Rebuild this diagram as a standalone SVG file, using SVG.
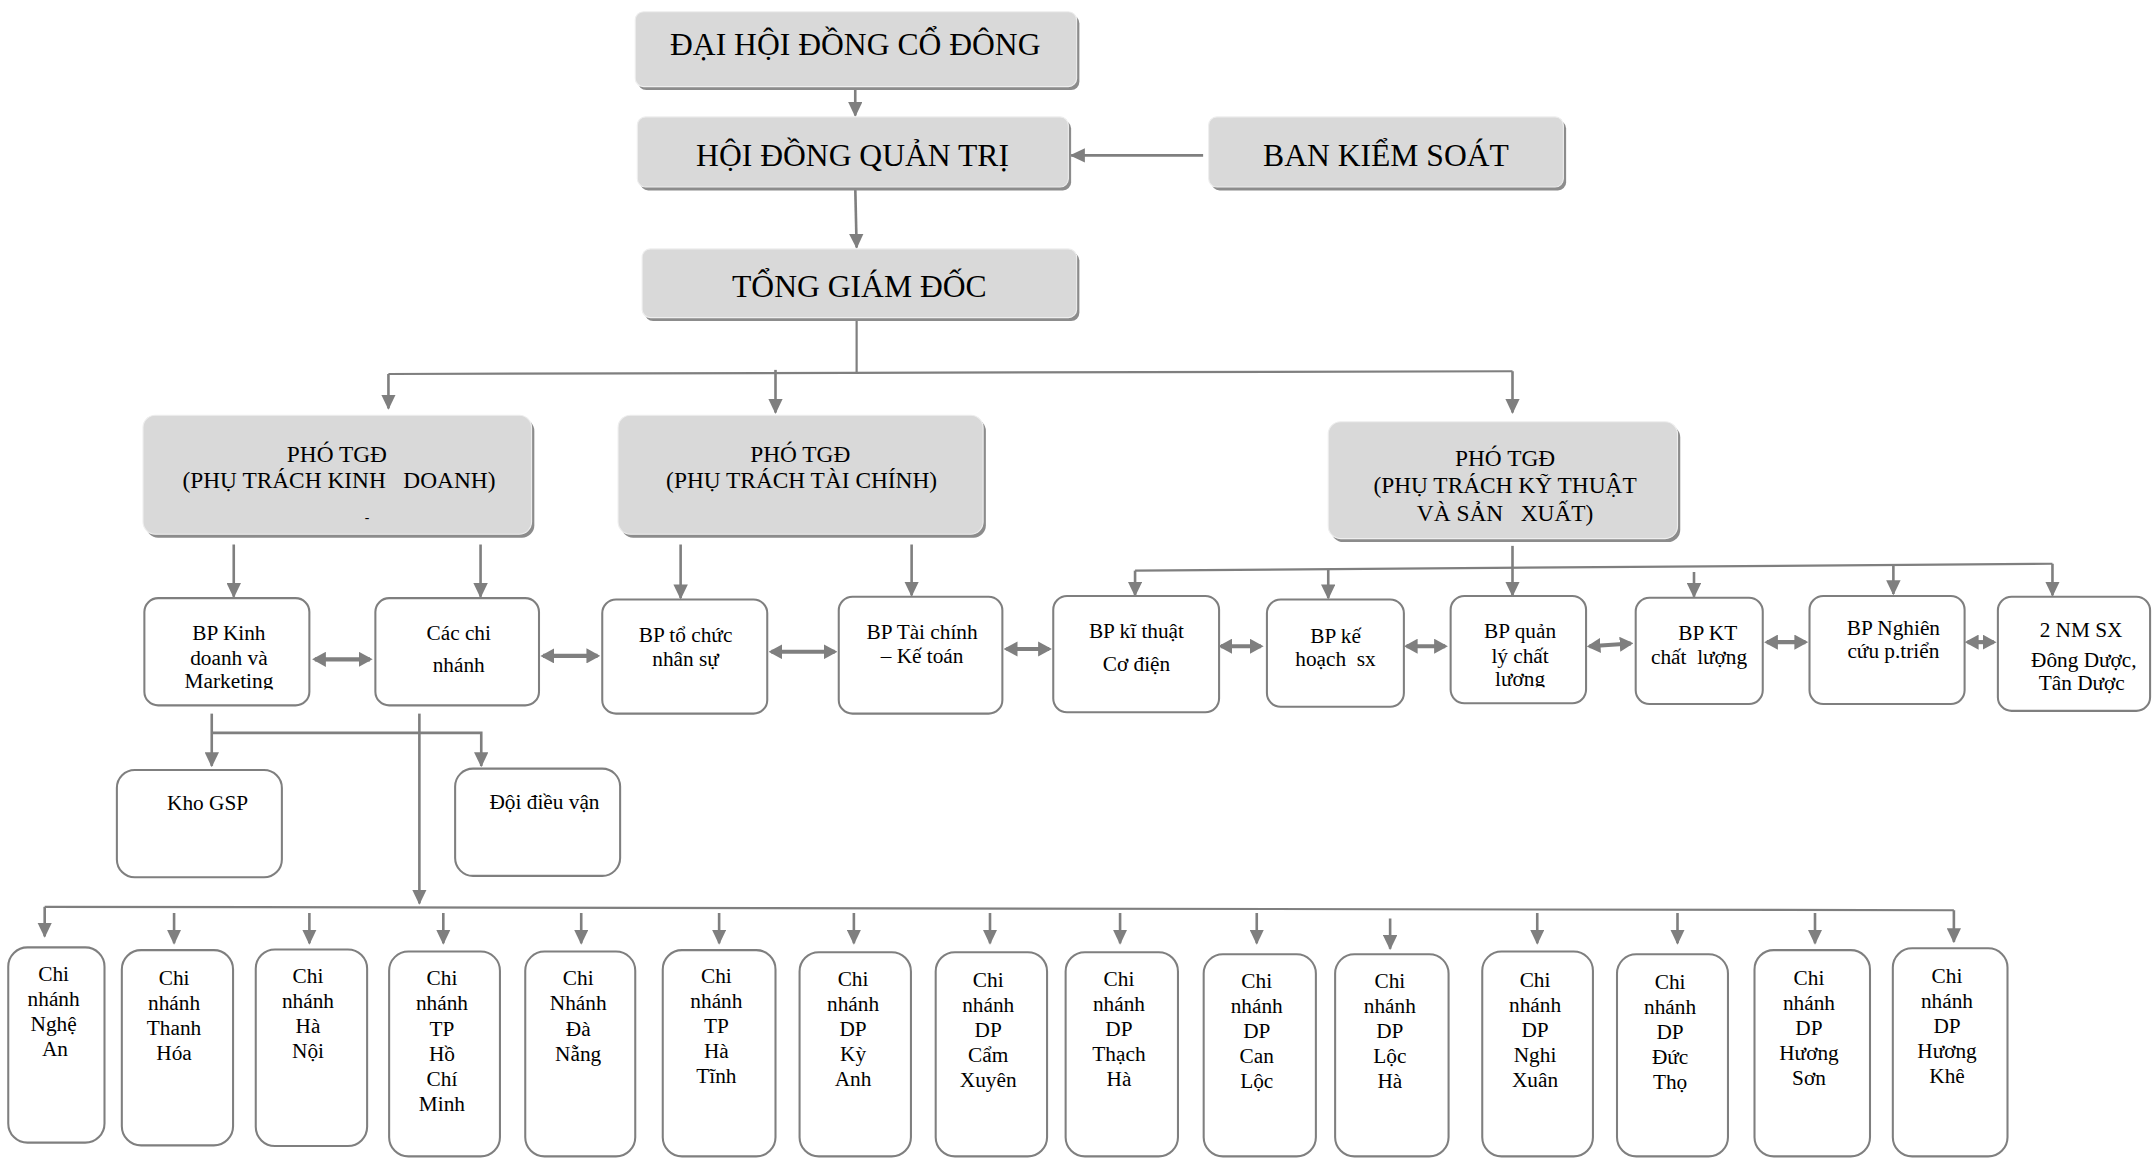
<svg xmlns="http://www.w3.org/2000/svg" width="2156" height="1159" viewBox="0 0 2156 1159">
<defs>
<style>
.sh{fill:#8c8c8c}
.gb{fill:#d9d9d9;stroke:#eeeeee;stroke-width:0.8}
.wb{fill:#ffffff;stroke:#7f7f7f;stroke-width:1.5}
.t{font-family:"Liberation Serif","Times New Roman",serif;fill:#000;text-anchor:middle;white-space:pre}
.f23{font-size:23px}
.f17{font-size:17px}
.f15{font-size:15.5px}
.c{fill:none;stroke:#7f7f7f;stroke-width:1.6}
.v{fill:none;stroke:#7f7f7f;stroke-width:1.9}
.d{fill:none;stroke:#7f7f7f;stroke-width:3}
</style>
<marker id="a" viewBox="0 0 11 10.5" refX="10" refY="5.25" markerWidth="11" markerHeight="10.5" markerUnits="userSpaceOnUse" orient="auto"><path d="M0,0L11,5.25L0,10.5z" fill="#7f7f7f"/></marker>
<marker id="b" viewBox="0 0 10 11" refX="8" refY="5.5" markerWidth="10" markerHeight="11" markerUnits="userSpaceOnUse" orient="auto-start-reverse"><path d="M0,0L10,5.5L0,11z" fill="#7f7f7f"/></marker>
<clipPath id="clipKD"><rect x="100" y="430" width="130" height="71.5"/></clipPath>
<clipPath id="clipQL"><rect x="1050" y="430" width="110" height="69.8"/></clipPath>
</defs>
<rect x="0" y="0" width="2156" height="1159" fill="#ffffff"/>
<g transform="scale(1.375)">
<g id="connectors">
<path class="v" d="M622,63V84" marker-end="url(#a)"/>
<path class="v" d="M875,113H779" marker-end="url(#a)"/>
<path class="v" d="M622,136L623,180" marker-end="url(#a)"/>
<path class="c" d="M623,231V271"/>
<path class="c" d="M282.5,272L1100,270"/>
<path class="v" d="M282.5,272V297" marker-end="url(#a)"/>
<path class="v" d="M564,269V300" marker-end="url(#a)"/>
<path class="v" d="M1100,270V300" marker-end="url(#a)"/>
<path class="v" d="M170,396V434" marker-end="url(#a)"/>
<path class="v" d="M349.5,396V434" marker-end="url(#a)"/>
<path class="v" d="M495,396V435" marker-end="url(#a)"/>
<path class="v" d="M663,396V433" marker-end="url(#a)"/>
<path class="v" d="M1100,397V433" marker-end="url(#a)"/>
<path class="c" d="M825.5,415L1492.7,410"/>
<path class="v" d="M825.5,415V433" marker-end="url(#a)"/>
<path class="v" d="M966,414V435" marker-end="url(#a)"/>
<path class="v" d="M1232,416V434" marker-end="url(#a)"/>
<path class="v" d="M1377,411V432" marker-end="url(#a)"/>
<path class="v" d="M1492.7,410V433" marker-end="url(#a)"/>
<path class="d" d="M229,479.5H269" marker-start="url(#b)" marker-end="url(#b)"/>
<path class="d" d="M395,477H434.5" marker-start="url(#b)" marker-end="url(#b)"/>
<path class="d" d="M561,474H607" marker-start="url(#b)" marker-end="url(#b)"/>
<path class="d" d="M732,472H763" marker-start="url(#b)" marker-end="url(#b)"/>
<path class="d" d="M888,470H917" marker-start="url(#b)" marker-end="url(#b)"/>
<path class="d" d="M1023,470H1051" marker-start="url(#b)" marker-end="url(#b)"/>
<path class="d" d="M1156,470L1186,468" marker-start="url(#b)" marker-end="url(#b)"/>
<path class="d" d="M1285,467H1313" marker-start="url(#b)" marker-end="url(#b)"/>
<path class="d" d="M1431,467H1450" marker-start="url(#b)" marker-end="url(#b)"/>
<path class="v" d="M154,519V557" marker-end="url(#a)"/>
<path class="v" d="M154,533H350V557" marker-end="url(#a)"/>
<path class="v" d="M305,519V657" marker-end="url(#a)"/>
<path class="c" d="M32.5,659.5L1421,662"/>
<path class="v" d="M32.5,659.5V681" marker-end="url(#a)"/>
<path class="v" d="M1421,662V685" marker-end="url(#a)"/>
<path class="v" d="M126.6,664V686" marker-end="url(#a)"/>
<path class="v" d="M225,664V686" marker-end="url(#a)"/>
<path class="v" d="M322.4,664V686" marker-end="url(#a)"/>
<path class="v" d="M422.7,664V686" marker-end="url(#a)"/>
<path class="v" d="M523,664V686" marker-end="url(#a)"/>
<path class="v" d="M621,664V686" marker-end="url(#a)"/>
<path class="v" d="M720,664V686" marker-end="url(#a)"/>
<path class="v" d="M814.6,664V686" marker-end="url(#a)"/>
<path class="v" d="M914,664V686" marker-end="url(#a)"/>
<path class="v" d="M1011,668V690" marker-end="url(#a)"/>
<path class="v" d="M1118,664V686" marker-end="url(#a)"/>
<path class="v" d="M1220,664V686" marker-end="url(#a)"/>
<path class="v" d="M1320,664V686" marker-end="url(#a)"/>
</g>
<g id="n_dhdcd">
<rect class="sh" x="464" y="11" width="321" height="54.5" rx="6"/>
<rect class="gb" x="462" y="8.5" width="321" height="54.5" rx="6"/>
<text class="t f23" x="622" y="40">ĐẠI HỘI ĐỒNG CỔ ĐÔNG</text>
</g>
<g id="n_hdqt">
<rect class="sh" x="465.5" y="87.5" width="313.5" height="51" rx="6"/>
<rect class="gb" x="463.5" y="85" width="313.5" height="51" rx="6"/>
<text class="t f23" x="620" y="121">HỘI ĐỒNG QUẢN TRỊ</text>
</g>
<g id="n_bks">
<rect class="sh" x="881" y="87.5" width="258" height="51" rx="6"/>
<rect class="gb" x="879" y="85" width="258" height="51" rx="6"/>
<text class="t f23" x="1008" y="121">BAN KIỂM SOÁT</text>
</g>
<g id="n_tgd">
<rect class="sh" x="469" y="183.5" width="316" height="50" rx="6"/>
<rect class="gb" x="467" y="181" width="316" height="50" rx="6"/>
<text class="t f23" x="625" y="216">TỔNG GIÁM ĐỐC</text>
</g>
<g id="n_pho_kd">
<rect class="sh" x="106" y="304.5" width="282.6" height="86.5" rx="9"/>
<rect class="gb" x="104" y="302" width="282.6" height="86.5" rx="9"/>
<text class="t f17" x="245" y="335.8">PHÓ TGĐ</text>
<text class="t f17" x="246.5" y="355">(PHỤ TRÁCH KINH   DOANH)</text>
<text class="t" style="font-size:10px" x="267" y="379.5">-</text>
</g>
<g id="n_pho_tc">
<rect class="sh" x="451.5" y="304.5" width="265.5" height="86.5" rx="9"/>
<rect class="gb" x="449.5" y="302" width="265.5" height="86.5" rx="9"/>
<text class="t f17" x="582" y="335.8">PHÓ TGĐ</text>
<text class="t f17" x="583" y="355">(PHỤ TRÁCH TÀI CHÍNH)</text>
</g>
<g id="n_pho_kt">
<rect class="sh" x="968" y="309.2" width="254" height="85" rx="9"/>
<rect class="gb" x="966" y="306.7" width="254" height="85" rx="9"/>
<text class="t f17" x="1094.6" y="339">PHÓ TGĐ</text>
<text class="t f17" x="1094.6" y="358.7">(PHỤ TRÁCH KỸ THUẬT</text>
<text class="t f17" x="1094.6" y="378.7">VÀ SẢN   XUẤT)</text>
</g>
<g id="n_bp_kd">
<rect class="wb" x="105" y="435" width="120" height="78" rx="10"/>
<text class="t f15" clip-path="url(#clipKD)"><tspan x="166.5" y="465.5">BP Kinh</tspan><tspan x="166.5" y="483.6">doanh và</tspan><tspan x="166.5" y="500.6">Marketing</tspan></text>
</g>
<g id="n_cac_cn">
<rect class="wb" x="273" y="435" width="119" height="78" rx="10"/>
<text class="t f15"><tspan x="333.6" y="465.5">Các chi</tspan><tspan x="333.6" y="488.5">nhánh</tspan></text>
</g>
<g id="n_bp_ns">
<rect class="wb" x="438" y="436" width="120" height="83" rx="10"/>
<text class="t f15"><tspan x="498.6" y="466.7">BP tổ chức</tspan><tspan x="498.6" y="484">nhân sự</tspan></text>
</g>
<g id="n_bp_tc">
<rect class="wb" x="610" y="434" width="119" height="85" rx="10"/>
<text class="t f15"><tspan x="670.6" y="465">BP Tài chính</tspan><tspan x="670.6" y="482">– Kế toán</tspan></text>
</g>
<g id="n_bp_kt">
<rect class="wb" x="766" y="433.5" width="120.6" height="84.5" rx="10"/>
<text class="t f15"><tspan x="826.5" y="464">BP kĩ thuật</tspan><tspan x="826.5" y="487.8">Cơ điện</tspan></text>
</g>
<g id="n_bp_kh">
<rect class="wb" x="921.4" y="436" width="99.6" height="78" rx="10"/>
<text class="t f15"><tspan x="971.3" y="467.4">BP kế</tspan><tspan x="971.3" y="484.4">hoạch  sx</tspan></text>
</g>
<g id="n_bp_ql">
<rect class="wb" x="1055" y="433.5" width="98.5" height="78" rx="10"/>
<text class="t f15" clip-path="url(#clipQL)"><tspan x="1105.5" y="464">BP quản</tspan><tspan x="1105.5" y="482">lý chất</tspan><tspan x="1105.5" y="499">lương</tspan></text>
</g>
<g id="n_bp_ktcl">
<rect class="wb" x="1189.6" y="434.7" width="92.4" height="77.3" rx="10"/>
<text class="t f15"><tspan x="1242" y="465.5">BP KT</tspan><tspan x="1235.7" y="483">chất  lượng</tspan></text>
</g>
<g id="n_bp_nc">
<rect class="wb" x="1316" y="433.5" width="112.8" height="78.5" rx="10"/>
<text class="t f15"><tspan x="1377" y="461.8">BP Nghiên</tspan><tspan x="1377" y="478.8">cứu p.triển</tspan></text>
</g>
<g id="n_2nm">
<rect class="wb" x="1453" y="434" width="110.7" height="83" rx="10"/>
<text class="t f15"><tspan x="1513.5" y="463.4">2 NM SX</tspan><tspan x="1515.5" y="484.8">Đông Dược,</tspan><tspan x="1514" y="501.8">Tân Dược</tspan></text>
</g>
<g id="n_kho">
<rect class="wb" x="85" y="560" width="120" height="78" rx="13"/>
<text class="t f15" x="151" y="589">Kho GSP</text>
</g>
<g id="n_doi">
<rect class="wb" x="331" y="559" width="120" height="78" rx="13"/>
<text class="t f15" x="396" y="588">Đội điều vận</text>
</g>
<g id="cn_nghe_an">
<rect class="wb" x="6" y="689" width="70" height="142" rx="14"/>
<text class="t f15"><tspan x="39" y="713.5">Chi</tspan><tspan x="39" y="731.7">nhánh</tspan><tspan x="39" y="749.9">Nghệ</tspan><tspan x="40" y="768.1">An</tspan></text>
</g>
<g id="cn_thanh_hoa">
<rect class="wb" x="88.6" y="691" width="80.9" height="142" rx="14"/>
<text class="t f15"><tspan x="126.6" y="716.4">Chi</tspan><tspan x="126.6" y="734.6">nhánh</tspan><tspan x="126.6" y="752.8">Thanh</tspan><tspan x="126.6" y="771">Hóa</tspan></text>
</g>
<g id="cn_ha_noi">
<rect class="wb" x="186" y="690.5" width="81" height="143" rx="14"/>
<text class="t f15"><tspan x="224" y="715">Chi</tspan><tspan x="224" y="733.2">nhánh</tspan><tspan x="224" y="751.4">Hà</tspan><tspan x="224" y="769.6">Nội</tspan></text>
</g>
<g id="cn_hcm">
<rect class="wb" x="283" y="692" width="80.6" height="149" rx="14"/>
<text class="t f15"><tspan x="321.4" y="716.7">Chi</tspan><tspan x="321.4" y="734.9">nhánh</tspan><tspan x="321.4" y="753.1">TP</tspan><tspan x="321.4" y="771.3">Hồ</tspan><tspan x="321.4" y="789.5">Chí</tspan><tspan x="321.4" y="807.7">Minh</tspan></text>
</g>
<g id="cn_da_nang">
<rect class="wb" x="382" y="692" width="80" height="149" rx="14"/>
<text class="t f15"><tspan x="420.5" y="716.7">Chi</tspan><tspan x="420.5" y="734.9">Nhánh</tspan><tspan x="420.5" y="753.1">Đà</tspan><tspan x="420.5" y="771.3">Nẵng</tspan></text>
</g>
<g id="cn_ha_tinh">
<rect class="wb" x="482" y="691" width="82" height="150" rx="14"/>
<text class="t f15"><tspan x="521" y="715">Chi</tspan><tspan x="521" y="733.2">nhánh</tspan><tspan x="521" y="751.4">TP</tspan><tspan x="521" y="769.6">Hà</tspan><tspan x="521" y="787.8">Tĩnh</tspan></text>
</g>
<g id="cn_ky_anh">
<rect class="wb" x="581.5" y="692.5" width="81" height="148.5" rx="14"/>
<text class="t f15"><tspan x="620.4" y="717">Chi</tspan><tspan x="620.4" y="735.2">nhánh</tspan><tspan x="620.4" y="753.4">DP</tspan><tspan x="620.4" y="771.6">Kỳ</tspan><tspan x="620.4" y="789.8">Anh</tspan></text>
</g>
<g id="cn_cam_xuyen">
<rect class="wb" x="680.5" y="692.5" width="81" height="148.5" rx="14"/>
<text class="t f15"><tspan x="718.7" y="717.6">Chi</tspan><tspan x="718.7" y="735.8">nhánh</tspan><tspan x="718.7" y="754">DP</tspan><tspan x="718.7" y="772.2">Cẩm</tspan><tspan x="718.7" y="790.4">Xuyên</tspan></text>
</g>
<g id="cn_thach_ha">
<rect class="wb" x="775" y="692.5" width="81.7" height="148.5" rx="14"/>
<text class="t f15"><tspan x="813.8" y="717">Chi</tspan><tspan x="813.8" y="735.2">nhánh</tspan><tspan x="813.8" y="753.4">DP</tspan><tspan x="813.8" y="771.6">Thạch</tspan><tspan x="813.8" y="789.8">Hà</tspan></text>
</g>
<g id="cn_can_loc">
<rect class="wb" x="875.4" y="694" width="81.6" height="147" rx="14"/>
<text class="t f15"><tspan x="914" y="718.8">Chi</tspan><tspan x="914" y="737">nhánh</tspan><tspan x="914" y="755.2">DP</tspan><tspan x="914" y="773.4">Can</tspan><tspan x="914" y="791.6">Lộc</tspan></text>
</g>
<g id="cn_loc_ha">
<rect class="wb" x="971" y="694" width="82.5" height="147" rx="14"/>
<text class="t f15"><tspan x="1010.8" y="718.8">Chi</tspan><tspan x="1010.8" y="737">nhánh</tspan><tspan x="1010.8" y="755.2">DP</tspan><tspan x="1010.8" y="773.4">Lộc</tspan><tspan x="1010.8" y="791.6">Hà</tspan></text>
</g>
<g id="cn_nghi_xuan">
<rect class="wb" x="1078" y="692" width="80.5" height="149" rx="14"/>
<text class="t f15"><tspan x="1116.4" y="717.6">Chi</tspan><tspan x="1116.4" y="735.8">nhánh</tspan><tspan x="1116.4" y="754">DP</tspan><tspan x="1116.4" y="772.2">Nghi</tspan><tspan x="1116.4" y="790.4">Xuân</tspan></text>
</g>
<g id="cn_duc_tho">
<rect class="wb" x="1176" y="694" width="80.7" height="147" rx="14"/>
<text class="t f15"><tspan x="1214.6" y="719.3">Chi</tspan><tspan x="1214.6" y="737.5">nhánh</tspan><tspan x="1214.6" y="755.7">DP</tspan><tspan x="1214.6" y="773.9">Đức</tspan><tspan x="1214.6" y="792.1">Thọ</tspan></text>
</g>
<g id="cn_huong_son">
<rect class="wb" x="1276" y="691" width="84" height="150" rx="14"/>
<text class="t f15"><tspan x="1315.6" y="716.4">Chi</tspan><tspan x="1315.6" y="734.6">nhánh</tspan><tspan x="1315.6" y="752.8">DP</tspan><tspan x="1315.6" y="771">Hương</tspan><tspan x="1315.6" y="789.2">Sơn</tspan></text>
</g>
<g id="cn_huong_khe">
<rect class="wb" x="1376.6" y="689.7" width="83.4" height="151.3" rx="14"/>
<text class="t f15"><tspan x="1416" y="714.7">Chi</tspan><tspan x="1416" y="732.9">nhánh</tspan><tspan x="1416" y="751.1">DP</tspan><tspan x="1416" y="769.3">Hương</tspan><tspan x="1416" y="787.5">Khê</tspan></text>
</g>
</g>
</svg>
